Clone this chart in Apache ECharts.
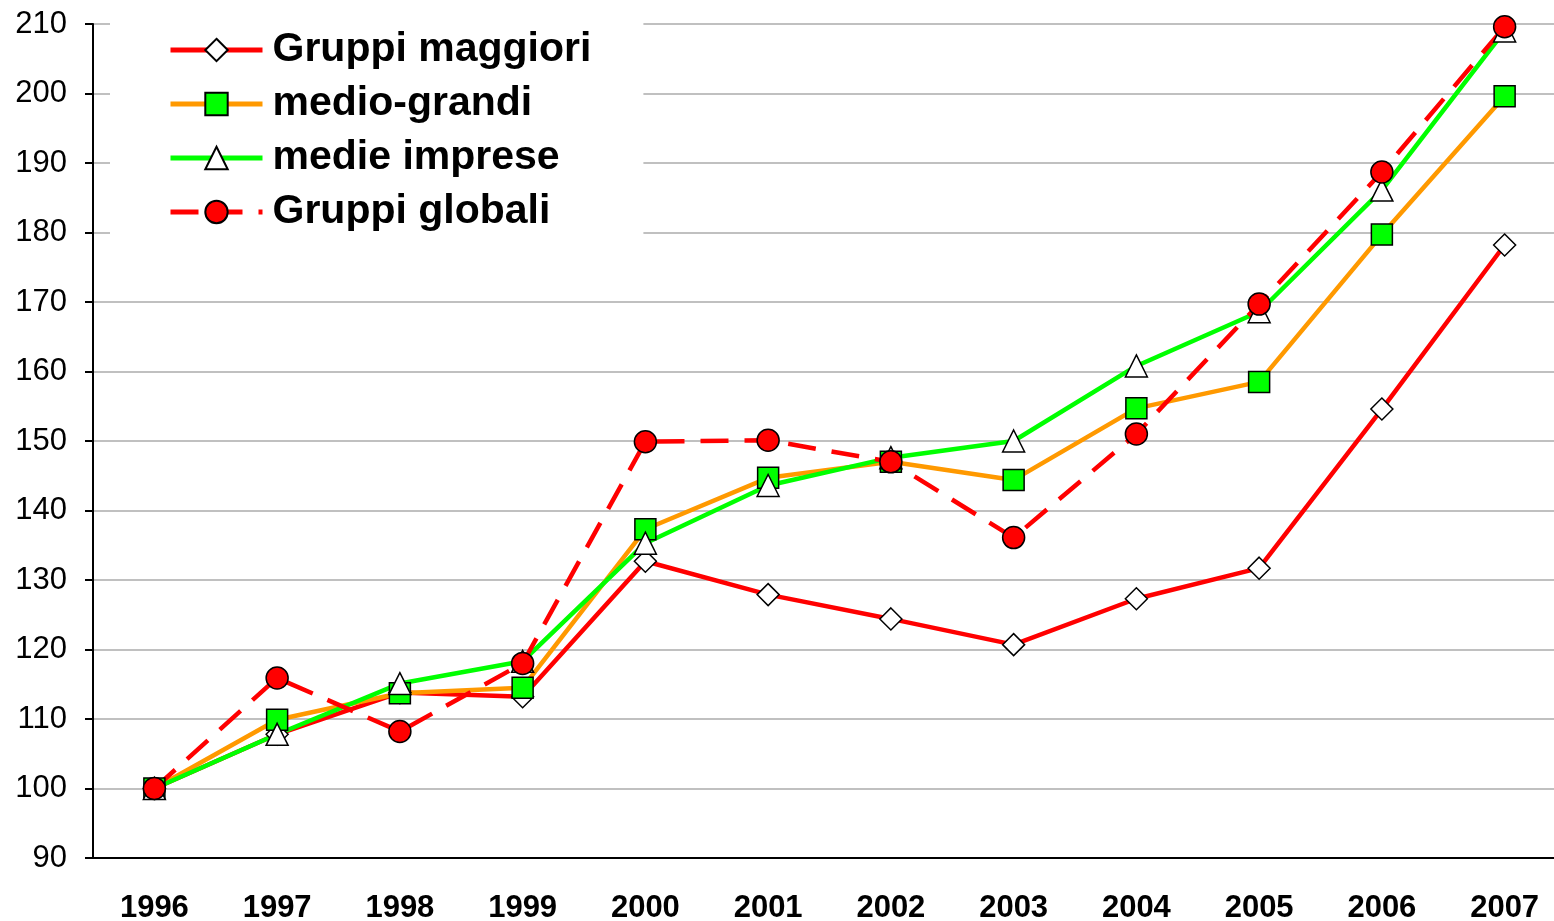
<!DOCTYPE html>
<html>
<head>
<meta charset="utf-8">
<script src="https://cdn.jsdelivr.net/npm/echarts@6/dist/echarts.min.js"></script>
<style>
  html, body { margin: 0; padding: 0; background: #fff; }
  #chart { width: 1554px; height: 921px; }
</style>
</head>
<body>
<div id="chart"></div>
<script>
const years = ["1996", "1997", "1998", "1999", "2000", "2001", "2002", "2003", "2004", "2005", "2006", "2007"];
const gruppiMaggiori = [100, 107.8, 113.8, 113.2, 132.7, 127.9, 124.4, 120.7, 127.3, 131.7, 154.6, 178.2];
const medioGrandi = [100, 109.9, 113.7, 114.5, 137.3, 144.7, 147.0, 144.4, 154.7, 158.5, 179.7, 199.6];
const medieImprese = [100, 107.8, 115.1, 118.3, 135.3, 143.6, 147.6, 150.0, 160.8, 168.6, 186.1, 209.0];
const gruppiGlobali = [100, 115.9, 108.2, 118.0, 149.9, 150.1, 147.0, 136.1, 151.0, 169.7, 188.7, 209.6];
const yTicks = { min: 90, max: 210, step: 10 };

const chart = echarts.init(document.getElementById("chart"));

const font = "Liberation Sans, Arial, sans-serif";
const border = { borderColor: "#000", borderWidth: 1.5 };

chart.setOption({
  animation: false,
  backgroundColor: "#fff",
  grid: { left: 93, right: -12, top: 24, bottom: 63, outerBoundsMode: "none" },
  legend: {
    orient: "vertical",
    left: 110,
    top: 23,
    backgroundColor: "#fff",
    padding: [6, 52, 8, 58],
    itemWidth: 92,
    itemHeight: 28,
    itemGap: 12,
    lineStyle: { width: 5 },
    textStyle: {
      fontFamily: font, fontWeight: "bold", fontSize: 41, color: "#000",
      lineHeight: 42, padding: [0, 0, 0, 5],
    },
    data: ["Gruppi maggiori", "medio-grandi", "medie imprese", "Gruppi globali"],
  },
  xAxis: {
    type: "category",
    data: years,
    boundaryGap: true,
    axisLine: { lineStyle: { color: "#000", width: 2 } },
    axisTick: { length: 10, lineStyle: { color: "#000", width: 2 } },
    axisLabel: { color: "#000", fontFamily: font, fontWeight: "bold", fontSize: 31, margin: 35 },
    splitLine: { show: false },
  },
  yAxis: {
    type: "value",
    min: yTicks.min,
    max: yTicks.max,
    interval: yTicks.step,
    axisLine: { show: true, lineStyle: { color: "#000", width: 2 } },
    axisTick: { show: true, length: 8, lineStyle: { color: "#000", width: 2 } },
    axisLabel: { color: "#000", fontFamily: font, fontSize: 31, margin: 26 },
    splitLine: { lineStyle: { color: "#c0c0c0", width: 2 } },
  },
  series: [
    {
      name: "Gruppi maggiori",
      type: "line",
      data: gruppiMaggiori,
      symbol: "diamond",
      symbolSize: 22,
      lineStyle: { color: "#ff0000", width: 4.5 },
      itemStyle: { color: "#fff", ...border },
    },
    {
      name: "medio-grandi",
      type: "line",
      data: medioGrandi,
      symbol: "rect",
      symbolSize: 21,
      lineStyle: { color: "#ff9900", width: 4.5 },
      itemStyle: { color: "#00ff00", ...border },
    },
    {
      name: "medie imprese",
      type: "line",
      data: medieImprese,
      symbol: "triangle",
      symbolSize: 22,
      lineStyle: { color: "#00ff00", width: 4.5 },
      itemStyle: { color: "#fff", ...border },
    },
    {
      name: "Gruppi globali",
      type: "line",
      data: gruppiGlobali,
      symbol: "circle",
      symbolSize: 22,
      lineStyle: { color: "#ff0000", width: 4.5, type: [28, 16] },
      itemStyle: { color: "#ff0000", ...border },
    },
  ],
});
</script>
</body>
</html>
